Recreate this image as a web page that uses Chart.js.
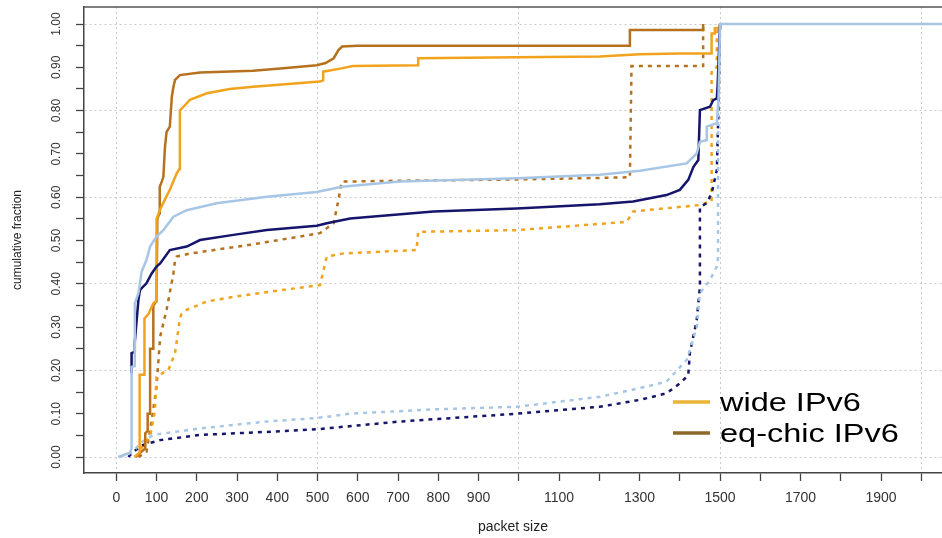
<!DOCTYPE html>
<html>
<head>
<meta charset="utf-8">
<script src="https://cdn.jsdelivr.net/npm/chart.js@4.4.1/dist/chart.umd.min.js"></script>
<style>
  html, body { margin: 0; padding: 0; background: #fff; }
  #wrap { width: 942px; height: 538px; }
</style>
</head>
<body>
<div id="wrap"><canvas id="cdf" width="942" height="538"></canvas></div>
<script>
// --- data (packet size -> cumulative fraction) ---
const wideSolidX = [45, 58, 58, 70, 70, 80, 92, 99, 100, 108, 121, 133, 150, 157, 158, 171, 183, 225, 282, 340, 506, 514, 514, 556, 588, 750, 750, 995, 1201, 1301, 1400, 1479, 1479, 1487, 1487, 1498, 1500];
const wideSolidY = [0, 0.01, 0.19, 0.19, 0.32, 0.33, 0.355, 0.36, 0.55, 0.57, 0.595, 0.617, 0.655, 0.665, 0.80, 0.813, 0.825, 0.84, 0.85, 0.855, 0.867, 0.87, 0.89, 0.897, 0.903, 0.905, 0.921, 0.923, 0.925, 0.93, 0.932, 0.932, 0.978, 0.978, 0.99, 0.99, 1.0];

const eqSolidX = [48, 60, 72, 72, 78, 78, 84, 84, 92, 92, 100, 102, 107, 108, 113, 117, 121, 125, 133, 138, 142, 146, 158, 208, 340, 415, 498, 520, 540, 552, 561, 600, 1276, 1276, 1458, 1458];
const eqSolidY = [0, 0.01, 0.02, 0.055, 0.06, 0.10, 0.10, 0.25, 0.25, 0.35, 0.36, 0.55, 0.563, 0.624, 0.636, 0.647, 0.717, 0.751, 0.763, 0.832, 0.855, 0.871, 0.882, 0.888, 0.892, 0.898, 0.905, 0.91, 0.921, 0.94, 0.948, 0.95, 0.95, 0.986, 0.986, 1.0];

const blueSolidX = [5, 34, 38, 38, 46, 46, 55, 63, 75, 84, 100, 117, 142, 175, 249, 374, 498, 540, 560, 705, 995, 1201, 1301, 1417, 1442, 1450, 1467, 1467, 1492, 1496, 1500, 2060];
const blueSolidY = [0, 0.01, 0.02, 0.208, 0.21, 0.355, 0.378, 0.428, 0.455, 0.486, 0.509, 0.524, 0.555, 0.57, 0.586, 0.601, 0.612, 0.62, 0.624, 0.636, 0.644, 0.652, 0.661, 0.678, 0.701, 0.728, 0.732, 0.763, 0.771, 0.824, 1.0, 1.0];

const navySolidX = [38, 38, 46, 46, 55, 59, 75, 88, 100, 109, 133, 175, 208, 291, 374, 498, 523, 581, 788, 995, 1201, 1284, 1367, 1400, 1421, 1434, 1446, 1450, 1475, 1483, 1492, 1494, 1500];
const navySolidY = [0.193, 0.24, 0.243, 0.266, 0.363, 0.386, 0.401, 0.424, 0.44, 0.447, 0.478, 0.486, 0.501, 0.513, 0.524, 0.534, 0.54, 0.551, 0.567, 0.574, 0.584, 0.59, 0.605, 0.617, 0.64, 0.67, 0.686, 0.801, 0.809, 0.824, 0.828, 0.859, 1.0];

const eqDotX = [55, 75, 88, 100, 109, 125, 142, 146, 150, 183, 332, 506, 540, 552, 560, 700, 1000, 1276, 1280, 1458, 1458];
const eqDotY = [0, 0.012, 0.085, 0.162, 0.278, 0.34, 0.424, 0.455, 0.463, 0.47, 0.49, 0.517, 0.54, 0.594, 0.636, 0.638, 0.641, 0.646, 0.903, 0.903, 1.0];

const wideDotX = [50, 59, 71, 84, 96, 100, 117, 129, 146, 154, 158, 162, 175, 225, 291, 415, 506, 519, 523, 564, 746, 750, 995, 1268, 1284, 1450, 1475, 1479, 1479, 1492, 1492, 1500];
const wideDotY = [0, 0.016, 0.032, 0.047, 0.108, 0.185, 0.195, 0.2, 0.24, 0.293, 0.32, 0.33, 0.34, 0.359, 0.37, 0.386, 0.397, 0.447, 0.463, 0.47, 0.478, 0.52, 0.524, 0.543, 0.567, 0.582, 0.59, 0.59, 0.894, 0.9, 0.98, 1.0];

const blueDotX = [9, 42, 59, 92, 208, 374, 498, 581, 788, 995, 1201, 1301, 1367, 1417, 1425, 1442, 1450, 1475, 1492, 1495, 1495, 1500];
const blueDotY = [0, 0.012, 0.032, 0.051, 0.066, 0.082, 0.09, 0.1, 0.11, 0.116, 0.139, 0.159, 0.174, 0.224, 0.247, 0.30, 0.378, 0.409, 0.44, 0.46, 0.80, 1.0];

const navyDotX = [30, 42, 67, 109, 208, 374, 498, 705, 995, 1201, 1301, 1367, 1400, 1421, 1425, 1442, 1450, 1450, 1467, 1479, 1492, 1496, 1500];
const navyDotY = [0, 0.012, 0.028, 0.039, 0.051, 0.058, 0.064, 0.082, 0.1, 0.116, 0.132, 0.147, 0.17, 0.189, 0.24, 0.316, 0.393, 0.578, 0.586, 0.609, 0.663, 0.80, 1.0];

const xTickLabels = [0, 100, 200, 300, 400, 500, 600, 700, 800, 900, 1100, 1300, 1500, 1700, 1900];
const yTickLabels = [0, 0.1, 0.2, 0.3, 0.4, 0.5, 0.6, 0.7, 0.8, 0.9, 1.0];
const legendNames = ['wide IPv6', 'eq-chic IPv6'];

// --- colours ---
const ORANGE = '#F2A31E';
const BROWN = '#B5711D';
const LIGHTBLUE = '#A7C6E6';
const NAVY = '#15156B';
const FONT = "'Liberation Sans', Arial, sans-serif";

function pts(xs, ys) {
    return xs.map((x, i) => ({ x: x, y: ys[i] }));
}

function series(label, xs, ys, color, dotted, order) {
    return {
        label: label,
        data: pts(xs, ys),
        borderColor: color,
        backgroundColor: color,
        borderWidth: 2.5,
        borderDash: dotted ? [4, 5] : [],
        pointRadius: 0,
        showLine: true,
        tension: 0,
        order: order
    };
}

// frame top line, rotated y labels and the in-plot legend
const decorations = {
    id: 'decorations',
    afterDraw(chart) {
        const ctx = chart.ctx;
        const area = chart.chartArea;
        const yScale = chart.scales.y;

        ctx.save();
        ctx.strokeStyle = '#555';
        ctx.lineWidth = 1.5;
        ctx.beginPath();
        ctx.moveTo(area.left, area.top);
        ctx.lineTo(area.right, area.top);
        ctx.stroke();

        // y tick labels, vertical like the original
        ctx.fillStyle = '#333';
        ctx.font = '12px ' + FONT;
        ctx.textAlign = 'center';
        ctx.textBaseline = 'middle';
        yTickLabels.forEach(v => {
            const py = yScale.getPixelForValue(v);
            ctx.save();
            ctx.translate(57, py);
            ctx.rotate(-Math.PI / 2);
            ctx.fillText(v.toFixed(2), 0, 0);
            ctx.restore();
        });

        // legend (only the two orange series are named)
        const legendColors = ['#EBB33A', '#8E6829'];
        const rows = [402, 433];
        ctx.lineWidth = 3.5;
        ctx.textAlign = 'left';
        ctx.textBaseline = 'alphabetic';
        ctx.fillStyle = '#000';
        ctx.font = '25px ' + FONT;
        legendNames.forEach((name, i) => {
            ctx.strokeStyle = legendColors[i];
            ctx.beginPath();
            ctx.moveTo(673, rows[i]);
            ctx.lineTo(710, rows[i]);
            ctx.stroke();
            ctx.save();
            ctx.translate(720, rows[i] + 8.5);
            ctx.scale(1.3, 1);
            ctx.fillText(name, 0, 0);
            ctx.restore();
        });
        ctx.restore();
    }
};

const onFifth = v => Math.abs(v * 5 - Math.round(v * 5)) < 1e-6;

new Chart(document.getElementById('cdf'), {
    type: 'scatter',
    data: {
        datasets: [
            series('lightblue', blueSolidX, blueSolidY, LIGHTBLUE, false, 0),
            series('navy', navySolidX, navySolidY, NAVY, false, 1),
            series(legendNames[0], wideSolidX, wideSolidY, ORANGE, false, 2),
            series(legendNames[1], eqSolidX, eqSolidY, BROWN, false, 3),
            series('lightblue dotted', blueDotX, blueDotY, LIGHTBLUE, true, 4),
            series('navy dotted', navyDotX, navyDotY, NAVY, true, 5),
            series('wide dotted', wideDotX, wideDotY, ORANGE, true, 6),
            series('eq-chic dotted', eqDotX, eqDotY, BROWN, true, 7)
        ]
    },
    options: {
        responsive: false,
        animation: false,
        devicePixelRatio: 1,
        layout: { padding: { top: 7, right: 0, left: 0, bottom: 0 } },
        plugins: {
            legend: { display: false },
            tooltip: { enabled: false }
        },
        scales: {
            x: {
                type: 'linear',
                min: -80.2,
                max: 2051.4,
                afterFit: s => { s.height = 65; },
                border: { display: true, color: '#444', width: 1.5, dash: [2, 3] },
                grid: {
                    color: c => (c.tick && c.tick.value % 500 === 0) ? '#c9c9c9' : 'rgba(0,0,0,0)',
                    lineWidth: 1,
                    tickColor: '#444',
                    tickWidth: 1.3,
                    tickLength: 8,
                    tickBorderDash: []
                },
                ticks: {
                    stepSize: 100,
                    includeBounds: false,
                    autoSkip: false,
                    maxRotation: 0,
                    padding: 9,
                    color: '#333',
                    font: { family: FONT, size: 14 },
                    callback: v => xTickLabels.includes(v) ? String(v) : ''
                },
                title: {
                    display: true,
                    text: 'packet size',
                    color: '#222',
                    font: { family: FONT, size: 14 },
                    padding: { top: 0, bottom: 2 }
                }
            },
            y: {
                type: 'linear',
                min: -0.03695,
                max: 1.0393,
                afterFit: s => { s.width = 84; },
                border: { display: true, color: '#444', width: 1.5, dash: [2, 3] },
                grid: {
                    color: c => (c.tick && onFifth(c.tick.value)) ? '#c9c9c9' : 'rgba(0,0,0,0)',
                    lineWidth: 1,
                    tickColor: '#444',
                    tickWidth: 1.3,
                    tickLength: 8,
                    tickBorderDash: []
                },
                ticks: {
                    stepSize: 0.05,
                    includeBounds: false,
                    display: false
                },
                title: {
                    display: true,
                    text: 'cumulative fraction',
                    color: '#222',
                    font: { family: FONT, size: 12 },
                    padding: { top: 10, bottom: 0 }
                }
            }
        }
    },
    plugins: [decorations]
});
</script>
</body>
</html>
